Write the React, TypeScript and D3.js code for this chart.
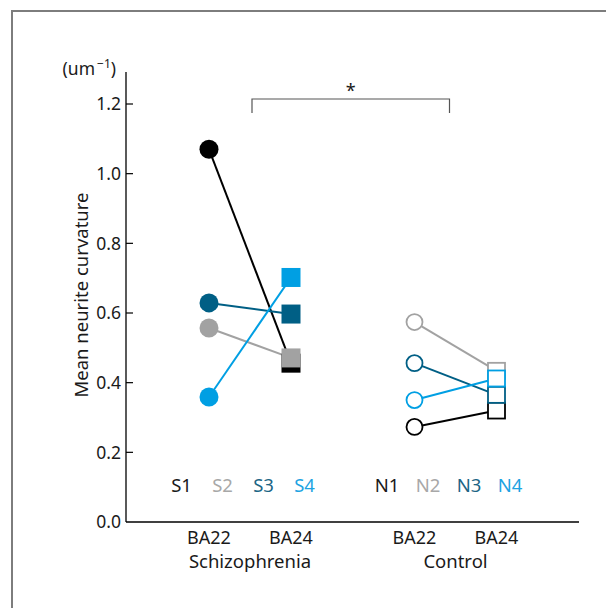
import React from "react";
import * as d3 from "d3";

// ---- data ----
const groups = ["Schizophrenia", "Control"];
const regions = ["BA22", "BA24"];
const schizSubjects = ["S1", "S2", "S3", "S4"];
const controlSubjects = ["N1", "N2", "N3", "N4"];
const schizBA22 = [1.07, 0.557, 0.629, 0.359];
const schizBA24 = [0.456, 0.471, 0.597, 0.702];
const controlBA22 = [0.273, 0.574, 0.456, 0.35];
const controlBA24 = [0.32, 0.434, 0.365, 0.412];
const yTicks = [0, 0.2, 0.4, 0.6, 0.8, 1.0, 1.2];
const subjectColors = ["#000000", "#a2a2a2", "#005f85", "#009fe3"];
const labelColors = ["#1a1a1a", "#a8a8a8", "#1c6585", "#1ea3e2"];
const drawOrderS = [0, 1, 2, 3];
const drawOrderN = [1, 0, 2, 3];

const FONT = "'Noto Sans', 'DejaVu Sans', sans-serif";

export default function App() {
  const y = d3.scaleLinear().domain([0, 1.2]).range([522, 104]);
  const gx = d3.scalePoint<string>().domain(groups).range([250, 455.5]);
  const rx = d3.scalePoint<string>().domain(regions).range([-41, 41]);
  const lx = d3.scalePoint<number>().domain([0, 1, 2, 3]).range([-68.5, 54.5]);
  const xAxisLeft = 126;
  const xAxisRight = 579;

  const series = [
    { group: "Schizophrenia", subjects: schizSubjects, a: schizBA22, b: schizBA24, filled: true, order: drawOrderS },
    { group: "Control", subjects: controlSubjects, a: controlBA22, b: controlBA24, filled: false, order: drawOrderN },
  ];

  const line = d3.line<[number, number]>().x((d) => d[0]).y((d) => d[1]);

  const xS22 = gx("Schizophrenia")! + rx("BA22")!;
  const xC22 = gx("Control")! + rx("BA22")!;
  const bracketTop = 99;

  return (
    <svg
      width={606}
      height={608}
      style={{ position: "absolute", left: 0, top: 0, background: "#fff" }}
      fontFamily={FONT}
    >
      <rect x={12} y={11} width={700} height={700} fill="none" stroke="#7d7d7d" strokeWidth={2} />

      {/* axes */}
      <line x1={xAxisLeft} x2={xAxisLeft} y1={72} y2={y(0)} stroke="#000" strokeWidth={1.3} />
      <line x1={xAxisLeft} x2={xAxisRight} y1={y(0)} y2={y(0)} stroke="#000" strokeWidth={1.3} />
      {yTicks.map((t) => (
        <g key={t}>
          {t > 0 && (
            <line x1={xAxisLeft} x2={xAxisLeft + 7} y1={y(t)} y2={y(t)} stroke="#000" strokeWidth={1.2} />
          )}
          <text x={121} y={y(t)} dy="0.36em" textAnchor="end" fontSize={17.5} fill="#1a1a1a">
            {t.toFixed(1)}
          </text>
        </g>
      ))}
      <text x={116} y={75} textAnchor="end" fontSize={17.5} fill="#1a1a1a">
        (um
        <tspan fontSize={12} dx={2} dy={-7}>{"\u2212"}1</tspan>
        <tspan dy={7}>)</tspan>
      </text>
      <text
        transform={`translate(88,295) rotate(-90)`}
        textAnchor="middle"
        fontSize={18.5}
        fill="#1a1a1a"
      >
        Mean neurite curvature
      </text>

      {/* x labels */}
      {groups.map((g) => (
        <g key={g}>
          {regions.map((r) => (
            <text key={r} x={gx(g)! + rx(r)!} y={544} textAnchor="middle" fontSize={18} fill="#1a1a1a">
              {r}
            </text>
          ))}
          <text x={gx(g)!} y={568} textAnchor="middle" fontSize={18.5} fill="#1a1a1a">
            {g}
          </text>
        </g>
      ))}

      {/* subject labels */}
      {series.map((s) =>
        s.subjects.map((name, i) => (
          <text key={name} x={gx(s.group)! + lx(i)!} y={492} textAnchor="middle" fontSize={18.5} fill={labelColors[i]}>
            {name}
          </text>
        ))
      )}

      {/* significance bracket */}
      <path
        d={`M${xS22 + 43},${bracketTop + 14}V${bracketTop}H${xC22 + 35}V${bracketTop + 14}`}
        fill="none"
        stroke="#555"
        strokeWidth={1.2}
      />
      <text x={(xS22 + 43 + xC22 + 35) / 2} y={97} textAnchor="middle" fontSize={18} fill="#1a1a1a">
        *
      </text>

      {/* lines */}
      {series.map((s) =>
        s.order.map((i) => {
          const p: [number, number][] = [
            [gx(s.group)! + rx("BA22")!, y(s.a[i])],
            [gx(s.group)! + rx("BA24")!, y(s.b[i])],
          ];
          return (
            <path key={s.group + i} d={line(p)!} fill="none" stroke={subjectColors[i]} strokeWidth={2} />
          );
        })
      )}

      {/* markers */}
      {series.map((s) =>
        s.order.map((i) => {
          const cx = gx(s.group)! + rx("BA22")!;
          const sx = gx(s.group)! + rx("BA24")!;
          const c = subjectColors[i];
          return s.filled ? (
            <g key={"m" + s.group + i}>
              <circle cx={cx} cy={y(s.a[i])} r={9.5} fill={c} />
              <rect x={sx - 9.5} y={y(s.b[i]) - 9.5} width={19} height={19} fill={c} />
            </g>
          ) : (
            <g key={"m" + s.group + i}>
              <circle cx={cx} cy={y(s.a[i])} r={8} fill="#fff" stroke={c} strokeWidth={1.8} />
              <rect x={sx - 8.5} y={y(s.b[i]) - 8} width={17} height={16} fill="#fff" stroke={c} strokeWidth={1.8} />
            </g>
          );
        })
      )}
    </svg>
  );
}
